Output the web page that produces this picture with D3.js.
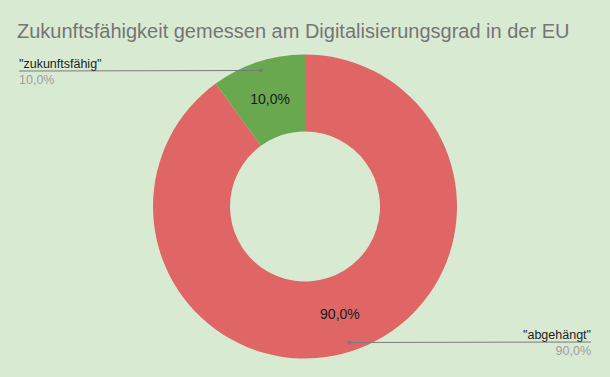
<!DOCTYPE html>
<html>
<head>
<meta charset="utf-8">
<script src="https://cdn.jsdelivr.net/npm/d3@7"></script>
<style>
  body { margin: 0; background: #d9ead3; }
  svg { display: block; font-family: "Liberation Sans", Arial, sans-serif; }
</style>
</head>
<body>
<div id="chart"></div>
<script>
// slice data, in drawing order (clockwise from 12 o'clock)
var categories = ["\"abgehängt\"", "\"zukunftsfähig\""];
var values = [90, 10];
var colors = ["#e06666", "#6aa84f"];
var title = "Zukunftsfähigkeit gemessen am Digitalisierungsgrad in der EU";

(function () {
    "use strict";

    var w = 610, h = 377,
        cx = 305, cy = 206.5,
        outerR = 152, innerR = 75,
        fmt = function (v) { return v.toFixed(1).replace(".", ",") + "%"; },
        total = d3.sum(values);

    var svg = d3.select("#chart").append("svg")
        .attr("width", w)
        .attr("height", h);

    svg.append("rect")
        .attr("width", w)
        .attr("height", h)
        .attr("fill", "#d9ead3");

    svg.append("text")
        .attr("x", 17)
        .attr("y", 38)
        .attr("font-size", 20)
        .attr("fill", "#757575")
        .text(title);

    var pie = d3.pie().sort(null).value(function (d) { return d; });
    var arcs = pie(values);
    var arc = d3.arc().innerRadius(innerR).outerRadius(outerR);
    var midArc = d3.arc().innerRadius(113).outerRadius(113);
    var dotArc = d3.arc().innerRadius(143).outerRadius(143);

    var g = svg.append("g")
        .attr("transform", "translate(" + cx + "," + cy + ")");

    g.selectAll("path")
        .data(arcs)
        .enter().append("path")
        .attr("d", arc)
        .attr("fill", function (d, i) { return colors[i]; });

    // value inside each slice
    g.selectAll("text.inner")
        .data(arcs)
        .enter().append("text")
        .attr("class", "inner")
        .attr("x", function (d) { return midArc.centroid(d)[0]; })
        .attr("y", function (d) { return midArc.centroid(d)[1] + 5; })
        .attr("text-anchor", "middle")
        .attr("font-size", 14)
        .attr("fill", "#1a1a1a")
        .text(function (d) { return fmt(d.value / total * 100); });

    // leader lines and outside labels
    var leaders = g.selectAll("g.leader")
        .data(arcs)
        .enter().append("g")
        .attr("class", "leader");

    leaders.each(function (d) {
        var sel = d3.select(this),
            p = dotArc.centroid(d),
            right = p[0] > 0,
            endX = right ? 591 - cx : 19 - cx,
            lineY = right ? 342 - cy : 71 - cy;
        sel.append("path")
            .attr("d", "M" + p[0] + "," + p[1] + "L" + endX + "," + lineY)
            .attr("stroke", "#7a7a7a")
            .attr("stroke-width", 1)
            .attr("fill", "none");
        sel.append("circle")
            .attr("cx", p[0])
            .attr("cy", p[1])
            .attr("r", 2)
            .attr("fill", "#7a7a7a");
        sel.append("text")
            .attr("x", endX)
            .attr("y", lineY - 3.5)
            .attr("text-anchor", right ? "end" : "start")
            .attr("font-size", 12.5)
            .attr("fill", "#222")
            .text(categories[d.index]);
        sel.append("text")
            .attr("x", endX)
            .attr("y", lineY + 13)
            .attr("text-anchor", right ? "end" : "start")
            .attr("font-size", 12.5)
            .attr("fill", "#9e9e9e")
            .text(fmt(d.value / total * 100));
    });
}());
</script>
</body>
</html>
